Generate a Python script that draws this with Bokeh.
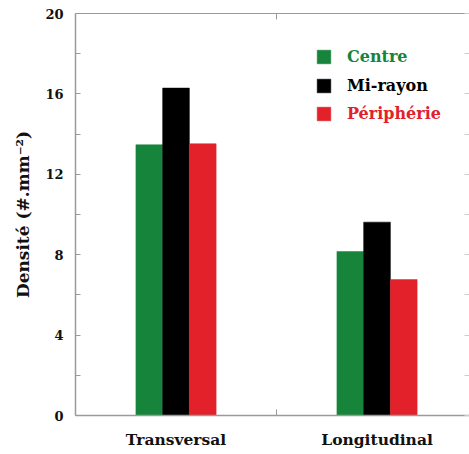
from bokeh.plotting import figure
from bokeh.models import (Range1d, FixedTicker, LinearAxis, Legend, LegendItem,
                          ColumnDataSource)
from bokeh.embed import file_html
from bokeh.resources import INLINE

categories = ["Transversal", "Longitudinal"]
centre = [13.47, 8.16]
mi_rayon = [16.29, 9.62]
peripherie = [13.52, 6.76]
series_names = ["Centre", "Mi-rayon", "Périphérie"]
series_colors = ["#16843a", "#000000", "#e2212a"]
y_ticks = [0, 4, 8, 12, 16, 20]
y_minor = [2, 6, 10, 14, 18]

FONT = "'DejaVu Serif', 'Liberation Serif', serif"
AXIS_COL = "#9a9a9a"

p = figure(width=469, height=454, output_backend="svg", toolbar_location=None,
           x_range=Range1d(0, 1.96), y_range=Range1d(0, 20),
           min_border_left=75, min_border_right=0, min_border_top=13,
           min_border_bottom=39)
p.outline_line_color = None
p.grid.visible = False
p.background_fill_color = "white"
p.border_fill_color = "white"

centers = [i + 0.5 for i in range(len(categories))]
bw = 0.133
offsets = [-bw, 0.0, bw]
renderers = []
for vals, off, col in zip([centre, mi_rayon, peripherie], offsets, series_colors):
    src = ColumnDataSource(dict(x=[c + off for c in centers], top=vals))
    r = p.vbar(x="x", top="top", width=bw, bottom=0, source=src,
               fill_color=col, line_color=col, line_width=0.5)
    renderers.append(r)

# x axis (bottom)
xt = FixedTicker(ticks=centers, minor_ticks=[1.0])
xa = p.xaxis[0]
xa.ticker = xt
xa.major_label_overrides = {c: cat for c, cat in zip(centers, categories)}
xa.major_tick_in = 0
xa.major_tick_out = 0
xa.minor_tick_in = 6
xa.minor_tick_out = 0
xa.minor_tick_line_color = AXIS_COL
xa.axis_line_color = AXIS_COL
xa.axis_line_width = 1.5
xa.major_label_text_font = FONT
xa.major_label_text_font_style = "bold"
xa.major_label_text_font_size = "15.5px"
xa.major_label_text_color = "#111111"
xa.major_label_standoff = 14

# y axis (left)
yt = FixedTicker(ticks=y_ticks, minor_ticks=y_minor)
ya = p.yaxis[0]
ya.ticker = yt
ya.major_tick_in = 5
ya.major_tick_out = 0
ya.minor_tick_in = 5
ya.minor_tick_out = 0
ya.major_tick_line_color = AXIS_COL
ya.minor_tick_line_color = AXIS_COL
ya.axis_line_color = AXIS_COL
ya.axis_line_width = 1.5
ya.major_label_text_font = FONT
ya.major_label_text_font_style = "bold"
ya.major_label_text_font_size = "13px"
ya.major_label_text_color = "#111111"
ya.major_label_standoff = 12
ya.axis_label = "Densité (#.mm⁻²)"
ya.axis_label_text_font = FONT
ya.axis_label_text_font_style = "bold"
ya.axis_label_text_font_size = "17px"
ya.axis_label_text_color = "#111111"
ya.axis_label_standoff = 9

# top axis (tick only, no labels)
ta = LinearAxis(ticker=FixedTicker(ticks=[], minor_ticks=[1.0]),
                major_label_standoff=0,
                major_tick_in=0, major_tick_out=0,
                minor_tick_in=6, minor_tick_out=0,
                minor_tick_line_color=AXIS_COL,
                axis_line_color=AXIS_COL, axis_line_width=1.2)
p.add_layout(ta, "above")

# right axis (ticks only, no labels)
ra = LinearAxis(ticker=FixedTicker(ticks=[], minor_ticks=y_ticks + y_minor),
                major_label_standoff=0,
                major_tick_in=0, major_tick_out=0,
                minor_tick_in=5, minor_tick_out=0,
                minor_tick_line_color="#cccccc",
                axis_line_color=None)
p.add_layout(ra, "right")

# legends, one per series so each label carries its own colour
legend_y = [349, 320, 292]
for name, col, r, ly in zip(series_names, series_colors, renderers, legend_y):
    lg = Legend(items=[LegendItem(label=name, renderers=[r])],
                location=(240, ly), padding=0, margin=0, spacing=0,
                glyph_width=17, glyph_height=17, label_height=17,
                label_standoff=15,
                label_text_font=FONT, label_text_font_style="bold",
                label_text_font_size="16px", label_text_color=col,
                border_line_color=None, background_fill_alpha=0)
    p.add_layout(lg, "center")

open("out.html", "w").write(file_html(p, INLINE))
